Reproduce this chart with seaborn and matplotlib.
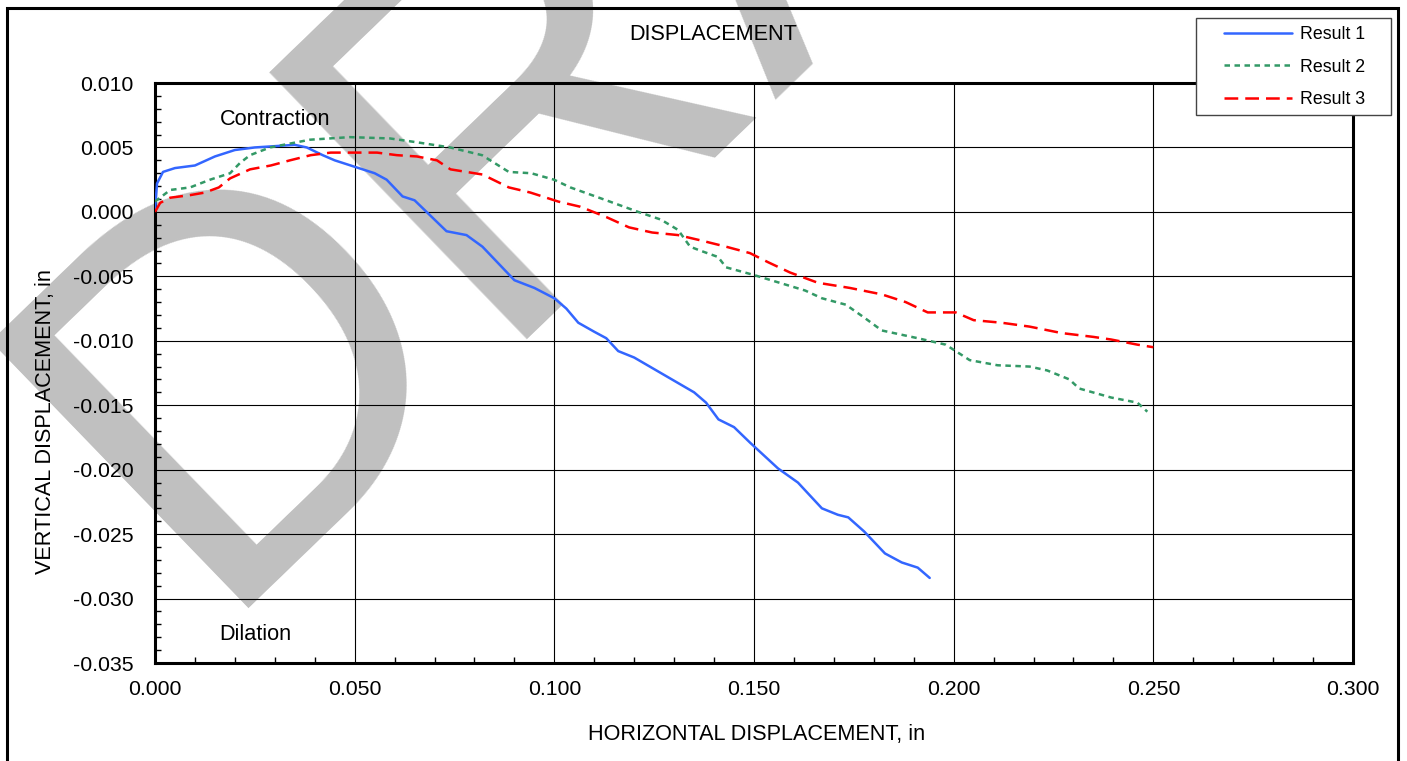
import matplotlib
matplotlib.use("Agg")
import matplotlib.pyplot as plt
import seaborn as sns
import pandas as pd
from matplotlib.ticker import MultipleLocator, FormatStrFormatter
from matplotlib.patches import Rectangle
from matplotlib.lines import Line2D

# ---------------- data ----------------
r1_x = [0.0, 0.0005, 0.002, 0.005, 0.010, 0.015, 0.020, 0.025, 0.030, 0.035, 0.038,
        0.042, 0.045, 0.050, 0.055, 0.058, 0.062, 0.065, 0.068, 0.070, 0.073, 0.078,
        0.082, 0.086, 0.090, 0.095, 0.100, 0.103, 0.106, 0.110, 0.113, 0.116, 0.120,
        0.125, 0.130, 0.135, 0.138, 0.1411, 0.145, 0.149, 0.156, 0.161, 0.167, 0.171,
        0.1736, 0.1776, 0.1828, 0.187, 0.191, 0.194]
r1_y = [0.0001, 0.0022, 0.0031, 0.0034, 0.0036, 0.0043, 0.0048, 0.0050, 0.0051, 0.0052,
        0.0050, 0.0044, 0.0040, 0.0035, 0.0030, 0.0025, 0.0012, 0.0009, 0.0000, -0.0006,
        -0.0015, -0.0018, -0.0027, -0.0040, -0.0053, -0.0059, -0.0067, -0.0075, -0.0086,
        -0.0093, -0.0098, -0.0108, -0.0113, -0.0122, -0.0131, -0.0140, -0.0148, -0.0161,
        -0.0167, -0.0179, -0.0199, -0.0210, -0.0230, -0.0235, -0.0237, -0.0248, -0.0265,
        -0.0272, -0.0276, -0.0284]

r2_x = [0.0, 0.0038, 0.0088, 0.0138, 0.0188, 0.0213, 0.0238, 0.0288, 0.0338, 0.0388,
        0.0488, 0.0588, 0.0656, 0.0739, 0.0819, 0.0886, 0.0942, 0.0999, 0.104, 0.113,
        0.121, 0.1267, 0.131, 0.134, 0.1365, 0.141, 0.143, 0.150, 0.1628, 0.167, 0.173,
        0.1776, 0.182, 0.191, 0.198, 0.204, 0.211, 0.219, 0.2234, 0.229, 0.2314, 0.2394,
        0.246, 0.2485]
r2_y = [0.0008, 0.0017, 0.0019, 0.0025, 0.0030, 0.0038, 0.0044, 0.0050, 0.0053, 0.0056,
        0.0058, 0.0057, 0.0054, 0.0050, 0.0044, 0.0031, 0.0030, 0.0025, 0.0019, 0.0009,
        0.0000, -0.0006, -0.0014, -0.0027, -0.0030, -0.0035, -0.0043, -0.0049, -0.0061,
        -0.0067, -0.0072, -0.0082, -0.0092, -0.0098, -0.0103, -0.0115, -0.0119, -0.0120,
        -0.0123, -0.0130, -0.0137, -0.0144, -0.0148, -0.0155]

r3_x = [0.0, 0.0013, 0.0038, 0.0088, 0.0125, 0.016, 0.0188, 0.0238, 0.029, 0.0338,
        0.039, 0.044, 0.0506, 0.0556, 0.0606, 0.0656, 0.0706, 0.074, 0.082, 0.0886,
        0.094, 0.101, 0.1065, 0.113, 0.1187, 0.1245, 0.131, 0.1365, 0.143, 0.149,
        0.1535, 0.159, 0.166, 0.174, 0.182, 0.188, 0.1935, 0.2005, 0.205, 0.212, 0.219,
        0.227, 0.235, 0.2394, 0.246, 0.250]
r3_y = [0.0000, 0.0007, 0.0011, 0.0013, 0.0015, 0.0019, 0.0026, 0.0033, 0.0036, 0.0040,
        0.0044, 0.0046, 0.0046, 0.0046, 0.0044, 0.0043, 0.0040, 0.0033, 0.0029, 0.0019,
        0.0015, 0.0008, 0.0004, -0.0004, -0.0012, -0.0016, -0.0018, -0.0022, -0.0027,
        -0.0032, -0.0039, -0.0047, -0.0055, -0.0059, -0.0064, -0.0070, -0.0078, -0.0078,
        -0.0084, -0.0086, -0.0089, -0.0094, -0.0097, -0.0099, -0.0103, -0.0105]

series_names = ["Result 1", "Result 2", "Result 3"]
title_text = "DISPLACEMENT"
x_label = "HORIZONTAL DISPLACEMENT, in"
y_label = "VERTICAL DISPLACEMENT, in"
note_top = "Contraction"
note_bottom = "Dilation"
watermark = "DRAFT"

# ---------------- style ----------------
sns.set_style("white")
plt.rcParams['font.family'] = ['Liberation Sans', 'DejaVu Sans']
plt.rcParams['axes.unicode_minus'] = False
plt.rcParams['text.color'] = 'black'
plt.rcParams['axes.labelcolor'] = 'black'
plt.rcParams['xtick.color'] = 'black'
plt.rcParams['ytick.color'] = 'black'

W, H = 1407, 761
fig = plt.figure(figsize=(W / 100, H / 100), dpi=100)
fig.patch.set_facecolor("white")

# watermark behind everything
fig.text(205 / W, 1 - 608 / H, watermark, fontsize=387, color="#c0c0c0",
         rotation=44, rotation_mode="anchor", ha="left", va="baseline", zorder=-5)

# outer border
fig.add_artist(Rectangle((7 / W, -0.1), (1398 - 7) / W, 1.1 - 8 / H,
                         transform=fig.transFigure, fill=False, lw=2.2,
                         edgecolor="black", zorder=1))

ax = fig.add_axes([155 / W, 1 - 663 / H, (1353 - 155) / W, (663 - 83) / H])
ax.set_facecolor("none")

colors = ["#3366FF", "#339966", "#FF0000"]
dash_styles = [None, (2.2, 1.8), (5.5, 2.8)]
lw = 1.8

df1 = pd.DataFrame({"x": r1_x, "y": r1_y})
df2 = pd.DataFrame({"x": r2_x, "y": r2_y})
df3 = pd.DataFrame({"x": r3_x, "y": r3_y})

sns.lineplot(data=df1, x="x", y="y", ax=ax, sort=False, estimator=None,
             color=colors[0], lw=lw, zorder=5)
sns.lineplot(data=df2, x="x", y="y", ax=ax, sort=False, estimator=None,
             color=colors[1], lw=lw, zorder=5)
sns.lineplot(data=df3, x="x", y="y", ax=ax, sort=False, estimator=None,
             color=colors[2], lw=lw, zorder=5)
lines = ax.get_lines()
lines[1].set_dashes(dash_styles[1])
lines[2].set_dashes(dash_styles[2])

ax.set_xlim(0, 0.300)
ax.set_ylim(-0.035, 0.010)
ax.xaxis.set_major_locator(MultipleLocator(0.05))
ax.xaxis.set_minor_locator(MultipleLocator(0.01))
ax.yaxis.set_major_locator(MultipleLocator(0.005))
ax.yaxis.set_minor_locator(MultipleLocator(0.001))
ax.xaxis.set_major_formatter(FormatStrFormatter("%.3f"))
ax.yaxis.set_major_formatter(FormatStrFormatter("%.3f"))

ax.grid(True, which="major", color="black", lw=0.8, zorder=1)
ax.set_axisbelow(True)
for s in ax.spines.values():
    s.set_visible(True)
    s.set_color("black")
    s.set_linewidth(2.2)

ax.tick_params(which="major", direction="out", length=4, width=1, color="black",
               labelsize=15.3, labelcolor="black")
ax.tick_params(axis="y", which="major", pad=11.5)
ax.tick_params(axis="x", which="major", pad=8)
ax.tick_params(which="minor", direction="in", length=4, width=1, color="black",
               bottom=True, left=True)

ax.set_xlabel(x_label, fontsize=15.6, va="center", color="black")
ax.set_ylabel(y_label, fontsize=15.6, va="center", color="black")
ax.xaxis.set_label_coords(0.502, -0.124)
ax.yaxis.set_label_coords(-0.0918, 0.417)

ax.text(0.030, 0.00713, note_top, fontsize=15.6, ha="center", va="center",
        color="black", zorder=6)
ax.text(0.025, -0.03275, note_bottom, fontsize=15.6, ha="center", va="center",
        color="black", zorder=6)

fig.text(713 / W, 1 - 35 / H, title_text, fontsize=15.6, ha="center", va="center",
         color="black")

# legend
fig.add_artist(Rectangle((1196 / W, 1 - 115 / H), (1391 - 1196) / W, (115 - 18) / H,
                         transform=fig.transFigure, facecolor="white",
                         edgecolor="#444444", lw=1.0, zorder=8))
handles = [Line2D([], [], color=colors[0], lw=lw),
           Line2D([], [], color=colors[1], lw=lw, dashes=dash_styles[1]),
           Line2D([], [], color=colors[2], lw=lw, dashes=dash_styles[2])]
leg = fig.legend(handles, series_names, loc="upper left",
                 bbox_to_anchor=(1224 / W, 1 - 26 / H), frameon=False,
                 fontsize=12.8, handlelength=3.8, handletextpad=0.45,
                 labelspacing=0.88, borderpad=0, borderaxespad=0)
for t in leg.get_texts():
    t.set_color("black")
leg.set_zorder(9)

fig.savefig("out.png", dpi=100)
